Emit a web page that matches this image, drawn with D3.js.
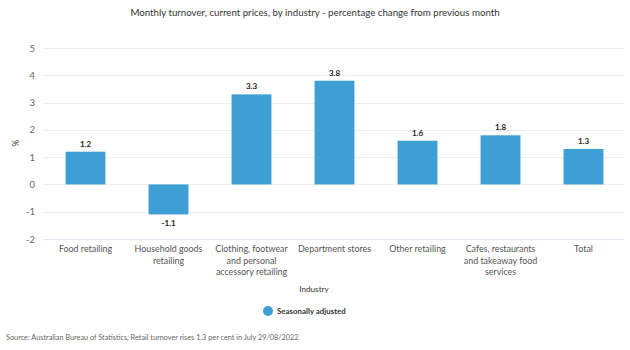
<!DOCTYPE html>
<html><head><meta charset="utf-8">
<script src="https://cdn.jsdelivr.net/npm/d3@7"></script>
<style>body{margin:0;background:#fff;} svg{display:block;font-family:Lato,"Open Sans",sans-serif;}</style>
</head><body>
<svg id="c" width="630" height="350"></svg>
<script>
const categories = ["Food retailing","Household goods retailing","Clothing, footwear and personal accessory retailing","Department stores","Other retailing","Cafes, restaurants and takeaway food services","Total"];
const categoryLines = [["Food retailing"],["Household goods","retailing"],["Clothing, footwear","and personal","accessory retailing"],["Department stores"],["Other retailing"],["Cafes, restaurants","and takeaway food","services"],["Total"]];
const values = [1.2,-1.1,3.3,3.8,1.6,1.8,1.3];
const yTicks = [-2,-1,0,1,2,3,4,5];
const seriesName = "Seasonally adjusted";
const title = "Monthly turnover, current prices, by industry - percentage change from previous month";
const source = "Source: Australian Bureau of Statistics, Retail turnover rises 1.3 per cent in July 29/08/2022";

const svg = d3.select("#c");
const color = "#3d9fd3";
const x = d3.scaleBand().domain(categories).range([44,625]).paddingInner(0.52).paddingOuter(0.26);
const y = d3.scaleLinear().domain([-2,5]).range([239,48]);

svg.append("text").attr("x",315).attr("y",16).attr("text-anchor","middle")
  .attr("font-size",9.7).attr("fill","#333").text(title);

// grid
svg.append("g").selectAll("line").data(yTicks).join("line")
  .attr("x1",43).attr("x2",624).attr("y1",d=>Math.round(y(d))+0.5).attr("y2",d=>Math.round(y(d))+0.5)
  .attr("stroke",d=>d===-2?"#e3e9f3":"#ededed").attr("stroke-width",1);
svg.append("g").selectAll("text").data(yTicks).join("text")
  .attr("x",35).attr("y",d=>y(d)+3.5).attr("text-anchor","end").attr("font-size",9.5).attr("fill","#666").text(d=>d);

svg.append("text").attr("transform","translate(19,143) rotate(-90)").attr("text-anchor","middle")
  .attr("font-size",8.5).attr("fill","#444").text("%");

// bars
svg.append("g").selectAll("rect").data(values).join("rect")
  .attr("x",(d,i)=>x(categories[i])).attr("width",x.bandwidth())
  .attr("y",d=>y(Math.max(0,d))).attr("height",d=>Math.abs(y(d)-y(0)))
  .attr("fill",color);

svg.append("g").selectAll("text").data(values).join("text")
  .attr("x",(d,i)=>x(categories[i])+x.bandwidth()/2)
  .attr("y",d=>d>=0? y(d)-5 : y(d)+12)
  .attr("text-anchor","middle").attr("font-size",8).attr("font-weight","bold").attr("fill","#222")
  .text(d=>d.toFixed(1));

// x labels
const xl = svg.append("g");
categoryLines.forEach((lines,i)=>{
  const t = xl.append("text").attr("x",x(categories[i])+x.bandwidth()/2).attr("y",252)
    .attr("text-anchor","middle").attr("font-size",8.9).attr("fill","#555");
  lines.forEach((l,j)=>t.append("tspan").attr("x",x(categories[i])+x.bandwidth()/2).attr("dy",j?11.5:0).text(l));
});
svg.append("text").attr("x",314).attr("y",292).attr("text-anchor","middle").attr("font-size",8.2).attr("fill","#333").text("Industry");

// legend
svg.append("circle").attr("cx",268).attr("cy",311).attr("r",5).attr("fill",color);
svg.append("text").attr("x",277).attr("y",314).attr("font-size",7.9).attr("font-weight","bold").attr("fill","#333").text(seriesName);

svg.append("text").attr("x",6).attr("y",340).attr("font-size",7.3).attr("fill","#666").text(source);
</script>
</body></html>
